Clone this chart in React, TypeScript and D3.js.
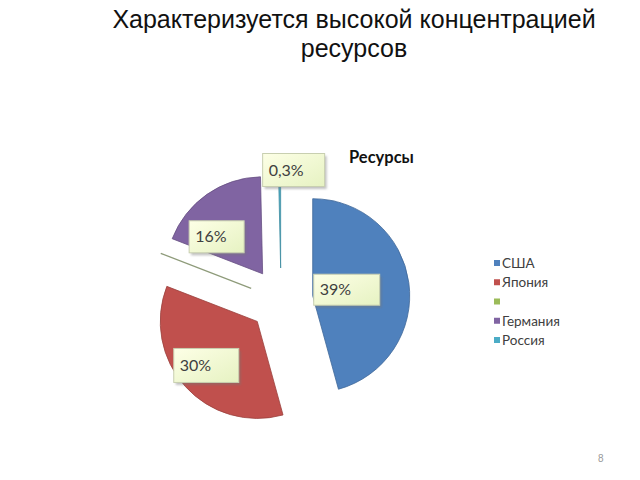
import React from 'react';
import * as d3 from 'd3';

const categories = ['США', 'Япония', '', 'Германия', 'Россия'];
const values = [39, 30, 0, 16, 0.3];
const valueLabels = ['39%', '30%', '', '16%', '0,3%'];
const colors = ['#4F81BD', '#C0504D', '#9BBB59', '#8064A2', '#4BACC6'];
const titleLines = ['Характеризуется высокой концентрацией', 'ресурсов'];
const chartTitle = 'Ресурсы';

// layout (label offsets from each exploded slice apex)
const labelOffsets: [number, number][] = [[34, -6], [-51, 44], [0, 0], [-46, -37], [13, -98]];
const labelSizes: [number, number][] = [[66, 31], [65, 34], [0, 0], [55, 32], [62, 33]];

export default function App() {
  const W = 640, H = 480;
  const cx = 281, cy = 300, R = 97, explode = 32;
  const pie = d3.pie<number>().sort(null).value(d => d);
  const arcs = pie(values);
  const arcGen = d3.arc<d3.PieArcDatum<number>>().innerRadius(0).outerRadius(R);
  const polar = (a: number, r: number): [number, number] => [Math.sin(a) * r, -Math.cos(a) * r];

  const legendY = d3.scalePoint<number>().domain(d3.range(categories.length)).range([263, 340]);

  return (
    <svg width={W} height={H} style={{ position: 'absolute', left: 0, top: 0, background: '#fff' }}>
      <defs>
        <linearGradient id="lblFill" x1="0" y1="0" x2="1" y2="1">
          <stop offset="0%" stopColor="#FDFFE6" />
          <stop offset="100%" stopColor="#E6F2C2" />
        </linearGradient>
        <filter id="shadow" x="-20%" y="-20%" width="150%" height="150%">
          <feGaussianBlur stdDeviation="1.2" />
        </filter>
      </defs>
      {titleLines.map((t, i) => (
        <text key={i} x={354} y={28 + i * 29} textAnchor="middle" fontFamily="Liberation Sans, Arial, sans-serif" fontSize={25} fill="#111">{t}</text>
      ))}
      <text x={349} y={163} fontFamily="Lato, 'Open Sans', sans-serif" fontWeight="bold" fontSize={16.5} fill="#111">{chartTitle}</text>
      {arcs.map((a, i) => {
        const mid = (a.startAngle + a.endAngle) / 2;
        const [ox, oy] = polar(mid, explode);
        const ax = cx + ox, ay = cy + oy;
        if (a.endAngle - a.startAngle < 1e-6) {
          const [ex, ey] = polar(a.startAngle, R);
          return <line key={i} x1={ax} y1={ay} x2={ax + ex} y2={ay + ey} stroke="#8E9B7A" strokeWidth={1.3} />;
        }
        return (
          <path key={i} d={arcGen(a) || ''} transform={`translate(${ax},${ay})`} fill={colors[i]}
            stroke={d3.color(colors[i])!.darker(0.6).toString()} strokeWidth={0.8} />
        );
      })}
      {arcs.map((a, i) => {
        if (!valueLabels[i]) return null;
        const mid = (a.startAngle + a.endAngle) / 2;
        const [ox, oy] = polar(mid, explode);
        const bx = cx + ox + labelOffsets[i][0];
        const by = cy + oy + labelOffsets[i][1];
        const [w, h] = labelSizes[i];
        return (
          <g key={i} transform={`translate(${bx - w / 2},${by - h / 2})`}>
            <rect x={2} y={2.5} width={w} height={h} fill="#777" opacity={0.45} filter="url(#shadow)" />
            <rect x={0} y={0} width={w} height={h} fill="url(#lblFill)" stroke="#C8CFB0" strokeWidth={1} />
            <text x={6} y={h / 2 + 5.5} fontFamily="Lato, 'Open Sans', sans-serif" fontSize={16} fill="#404040">{valueLabels[i]}</text>
          </g>
        );
      })}
      {categories.map((c, i) => (
        <g key={i} transform={`translate(494,${legendY(i)})`}>
          <rect x={0} y={-3} width={6} height={6} fill={colors[i]} />
          <text x={8} y={5} fontFamily="Lato, 'Open Sans', sans-serif" fontSize={13.5} fill="#404040">{c}</text>
        </g>
      ))}
      <text x={598} y={462} fontFamily="Liberation Sans, Arial, sans-serif" fontSize={10} fill="#999">8</text>
    </svg>
  );
}
